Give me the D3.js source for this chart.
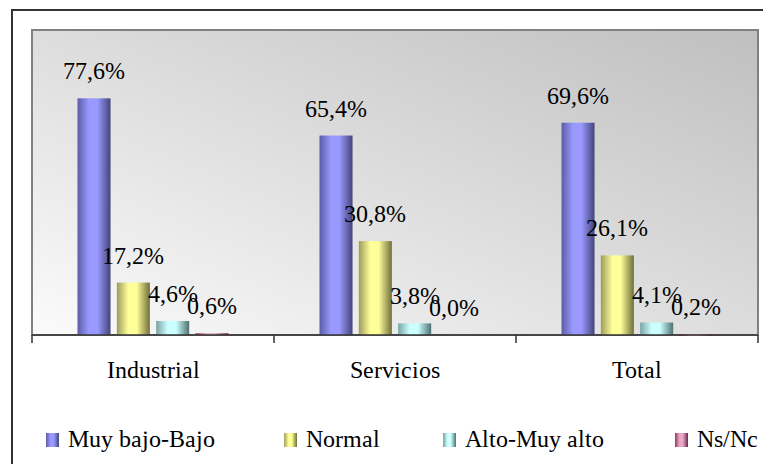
<!DOCTYPE html>
<html>
<head>
<meta charset="utf-8">
<script src="https://cdn.jsdelivr.net/npm/d3@7"></script>
<style>
  @font-face {
    font-family: "ChartSerif";
    src: local("Liberation Serif"), local("LiberationSerif"), local("LiberationSerif-Regular"), local("Times New Roman");
    font-weight: normal;
    font-style: normal;
  }
  body { margin: 0; }
  svg text { font-family: "ChartSerif", "Liberation Serif", "Times New Roman", Times, serif; }
</style>
</head>
<body>
<svg id="chart" width="763" height="464"></svg>
<script>
// Chart data
const categories = ["Industrial", "Servicios", "Total"];
const seriesNames = ["Muy bajo-Bajo", "Normal", "Alto-Muy alto", "Ns/Nc"];
const muyBajoBajo = [77.6, 65.4, 69.6];
const normal = [17.2, 30.8, 26.1];
const altoMuyAlto = [4.6, 3.8, 4.1];
const nsNc = [0.6, 0.0, 0.2];
const seriesValues = [muyBajoBajo, normal, altoMuyAlto, nsNc];
const seriesColors = [
  { dark: "#44447a", mid: "#9999ff", edge: "#5c5ca8" },
  { dark: "#6e6e3a", mid: "#ffff99", edge: "#9c9c5c" },
  { dark: "#4e7070", mid: "#ccffff", edge: "#7aa3a3" },
  { dark: "#6e2448", mid: "#e8a8c8", edge: "#993366" }
];

const svg = d3.select("#chart");
const defs = svg.append("defs");

// Plot background: diagonal light-to-grey wash
const bg = defs.append("linearGradient").attr("id", "plotBg")
  .attr("x1", "0").attr("y1", "1").attr("x2", "1").attr("y2", "0");
bg.append("stop").attr("offset", "0").attr("stop-color", "#fbfbfb");
bg.append("stop").attr("offset", "1").attr("stop-color", "#bfbfbf");

// Cylinder-like shading for each series
seriesColors.forEach((c, i) => {
  const g = defs.append("linearGradient").attr("id", "bar" + i)
    .attr("x1", "0").attr("y1", "0").attr("x2", "1").attr("y2", "0");
  g.append("stop").attr("offset", "0").attr("stop-color", c.edge);
  g.append("stop").attr("offset", "0.35").attr("stop-color", c.mid);
  g.append("stop").attr("offset", "0.6").attr("stop-color", c.mid);
  g.append("stop").attr("offset", "1").attr("stop-color", c.dark);
});

// Outer chart frame (extends past the right and bottom edges)
svg.append("rect")
  .attr("x", 12).attr("y", 10).attr("width", 800).attr("height", 500)
  .attr("fill", "none").attr("stroke", "#333").attr("stroke-width", 2);

const plot = { left: 32, right: 758, top: 30, bottom: 335 };
const groupWidth = 151;

const x0 = d3.scaleBand().domain(categories)
  .range([plot.left, plot.right]).paddingInner(0).paddingOuter(0);
const x1 = d3.scaleBand().domain(d3.range(seriesNames.length))
  .range([0, groupWidth]).paddingInner(0.16).paddingOuter(0);
const y = d3.scaleLinear().domain([0, 100]).range([plot.bottom, plot.top]);

// Plot area
svg.append("rect")
  .attr("x", plot.left).attr("y", plot.top)
  .attr("width", plot.right - plot.left).attr("height", plot.bottom - plot.top)
  .attr("fill", "url(#plotBg)").attr("stroke", "#808080").attr("stroke-width", 2);

function label(sel) {
  return sel.style("font-size", "24px")
    .style("font-family", '"ChartSerif", "Liberation Serif", serif');
}

// Bars with value labels
const groupOffset = (x0.bandwidth() - groupWidth) / 2;
categories.forEach((cat, ci) => {
  const gx = x0(cat) + groupOffset;
  seriesValues.forEach((vals, si) => {
    const v = vals[ci];
    const bx = gx + x1(si);
    const by = y(v);
    if (v > 0) {
      svg.append("rect")
        .attr("x", bx).attr("y", by)
        .attr("width", x1.bandwidth())
        .attr("height", Math.max(plot.bottom - by, 1.5))
        .attr("fill", "url(#bar" + si + ")");
    }
    label(svg.append("text"))
      .attr("x", bx + x1.bandwidth() / 2)
      .attr("y", by - 19)
      .attr("text-anchor", "middle")
      .text(v.toFixed(1).replace(".", ",") + "%");
  });
});

// Category axis
const xAxis = svg.append("g")
  .attr("transform", `translate(0,${plot.bottom})`);
xAxis.append("line")
  .attr("x1", plot.left).attr("x2", plot.right)
  .attr("stroke", "#333").attr("stroke-width", 1.5);
const tickPos = categories.map(c => x0(c)).concat([plot.right]);
xAxis.selectAll("line.tick").data(tickPos).enter().append("line")
  .attr("class", "tick")
  .attr("x1", d => d).attr("x2", d => d)
  .attr("y1", 0).attr("y2", 8)
  .attr("stroke", "#333").attr("stroke-width", 1.5);
label(xAxis.selectAll("text").data(categories).enter().append("text"))
  .attr("x", d => x0(d) + x0.bandwidth() / 2)
  .attr("y", 43)
  .attr("text-anchor", "middle")
  .text(d => d);

// Legend
const legendX = [46, 284, 443, 675];
const legend = svg.append("g").attr("transform", "translate(0,447)");
seriesNames.forEach((name, i) => {
  legend.append("rect")
    .attr("x", legendX[i]).attr("y", -14)
    .attr("width", 13).attr("height", 14)
    .attr("fill", "url(#bar" + i + ")");
  label(legend.append("text"))
    .attr("x", legendX[i] + 22).attr("y", 0)
    .text(name);
});
</script>
</body>
</html>
